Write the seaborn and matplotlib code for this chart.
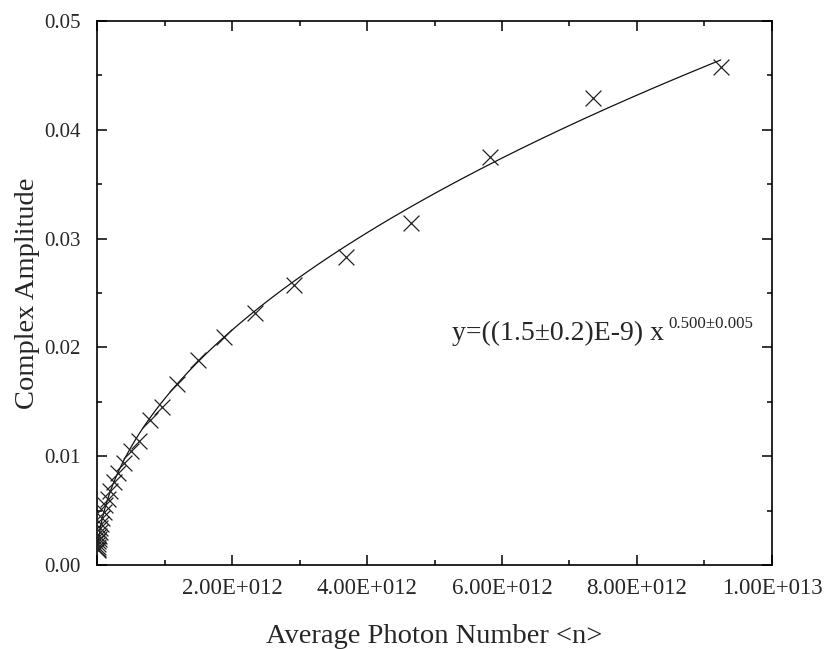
import numpy as np
import pandas as pd
import matplotlib
matplotlib.use("Agg")
import matplotlib.pyplot as plt
from matplotlib.ticker import MultipleLocator, FuncFormatter
import seaborn as sns

# Measured amplitudes versus mean photon number (photon numbers in units of 1e12)
photon_number_e12 = [
    9.24, 7.35, 5.82, 4.65, 3.69, 2.92, 2.34, 1.88, 1.50, 1.19,
    0.96, 0.78, 0.62, 0.51, 0.40, 0.315, 0.25, 0.198, 0.157, 0.125,
    0.099, 0.079, 0.062, 0.050, 0.039, 0.031, 0.025, 0.020, 0.0157,
    0.0125, 0.0099, 0.0079,
]
complex_amplitude = [
    0.0458, 0.0429, 0.0375, 0.0314, 0.0283, 0.0257, 0.0232, 0.0210, 0.0188, 0.0166,
    0.01455, 0.0133, 0.0114, 0.0105, 0.0094, 0.0085, 0.0076, 0.0068, 0.0061, 0.0055,
    0.0049, 0.0043, 0.0038, 0.0034, 0.0030, 0.0027, 0.0024, 0.0022, 0.0019,
    0.0017, 0.0015, 0.0014,
]

# Power-law fit y = a * x^p
fit_coef = 1.527e-8
fit_exp = 0.5
fit_label_main = "y=((1.5\u00b10.2)E-9) x"
fit_label_exp = "0.500\u00b10.005"

x_title = "Average Photon Number <n>"
y_title = "Complex Amplitude"

df = pd.DataFrame({
    "n": np.array(photon_number_e12) * 1e12,
    "amp": complex_amplitude,
})
x_fit = np.linspace(df["n"].min(), df["n"].max(), 400)
fit_df = pd.DataFrame({"n": x_fit, "amp": fit_coef * x_fit ** fit_exp})

sns.set_style("ticks")
plt.rcParams["font.family"] = ["Liberation Serif", "DejaVu Serif"]

fig = plt.figure(figsize=(8.30, 6.49), dpi=100)
ax = fig.add_axes([0.1169, 0.1294, 0.9301 - 0.1169, 0.9676 - 0.1294])

sns.lineplot(data=fit_df, x="n", y="amp", ax=ax, color="#111111", linewidth=0.9)
sns.scatterplot(data=df, x="n", y="amp", ax=ax, marker="x", s=130,
                color="#222222", linewidth=0.9, zorder=3)

ax.set_xlim(0, 1e13)
ax.set_ylim(0, 0.05)

ax.xaxis.set_major_locator(MultipleLocator(2e12))
ax.xaxis.set_minor_locator(MultipleLocator(1e12))
ax.yaxis.set_major_locator(MultipleLocator(0.01))
ax.yaxis.set_minor_locator(MultipleLocator(0.005))


def fmt_x(v, pos):
    if v <= 0:
        return ""
    exp = int(np.floor(np.log10(v) + 1e-9))
    mant = v / 10 ** exp
    return f"{mant:.2f}E+{exp:03d}"


ax.xaxis.set_major_formatter(FuncFormatter(fmt_x))
ax.yaxis.set_major_formatter(FuncFormatter(lambda v, p: f"{v:.2f}"))

ax.tick_params(which="both", direction="in", top=True, right=True,
               color="black", width=1.1)
ax.tick_params(which="major", length=7.2)
ax.tick_params(which="minor", length=3.6)
ax.tick_params(axis="x", which="major", labelsize=16.5, pad=9)
ax.tick_params(axis="y", which="major", labelsize=15, pad=12)

for side in ["left", "right", "top", "bottom"]:
    ax.spines[side].set_visible(True)
    ax.spines[side].set_linewidth(1.2)
    ax.spines[side].set_color("black")

ax.set_xlabel(x_title, fontsize=20.5, labelpad=18)
ax.set_ylabel(y_title, fontsize=20.5, labelpad=3)

ax.text(5.26e12, 0.0207, fit_label_main, fontsize=20, va="baseline", ha="left")
ax.text(8.47e12, 0.0218, fit_label_exp, fontsize=12.2, va="baseline", ha="left")

fig.savefig("out.png", dpi=100)
